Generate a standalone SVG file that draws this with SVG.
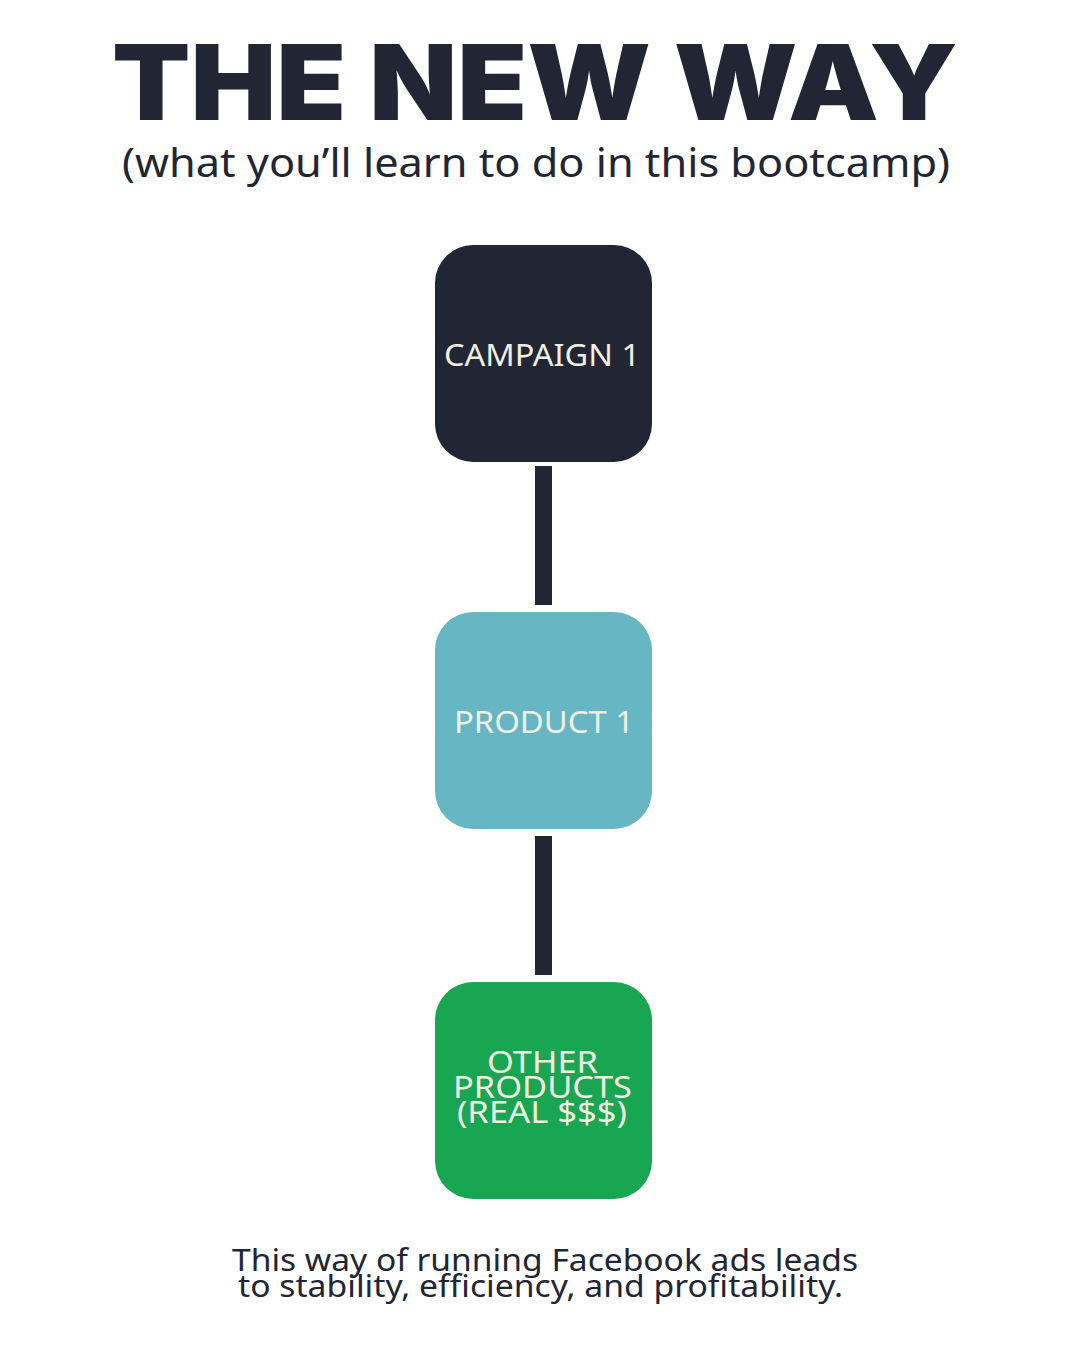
<svg xmlns="http://www.w3.org/2000/svg" width="1080" height="1351" viewBox="0 0 1080 1351">
<style>
.title{font-family:Inter,"Liberation Sans",sans-serif;font-weight:900;fill:#222533}
.sub{font-family:"Noto Sans","Open Sans",sans-serif;fill:#222533}
.lbl{font-family:"Noto Sans","Open Sans",sans-serif;fill:#EEF0E2;font-size:30px;text-anchor:middle}
.conn{fill:#222533}
</style>
<rect width="1080" height="1351" fill="#ffffff"/>
<text class="title" x="112" y="120" font-size="104" textLength="846" lengthAdjust="spacingAndGlyphs">THE NEW WAY</text>
<text class="sub" x="122" y="177" font-size="40" textLength="828" lengthAdjust="spacingAndGlyphs">(what you’ll learn to do in this bootcamp)</text>
<g id="connectors">
<rect class="conn" x="535" y="466" width="17" height="139"/>
<rect class="conn" x="535" y="836" width="17" height="139"/>
</g>
<g id="campaign1">
<rect x="435" y="245" width="217" height="217" rx="38" fill="#222533"/>
<text class="lbl" x="542" y="366" textLength="196" lengthAdjust="spacingAndGlyphs">CAMPAIGN 1</text>
</g>
<g id="product1">
<rect x="435" y="612" width="217" height="217" rx="38" fill="#66B6C3"/>
<text class="lbl" x="544" y="733" textLength="180" lengthAdjust="spacingAndGlyphs">PRODUCT 1</text>
</g>
<g id="other">
<rect x="435" y="982" width="217" height="217" rx="38" fill="#19A652"/>
<text class="lbl" x="542.5" y="1073" textLength="111" lengthAdjust="spacingAndGlyphs">OTHER</text>
<text class="lbl" x="542.5" y="1098" textLength="179" lengthAdjust="spacingAndGlyphs">PRODUCTS</text>
<text class="lbl" x="542" y="1123" textLength="170" lengthAdjust="spacingAndGlyphs">(REAL $$$)</text>
</g>
<text class="sub" x="232" y="1271" font-size="30" textLength="626" lengthAdjust="spacingAndGlyphs">This way of running Facebook ads leads</text>
<text class="sub" x="238" y="1297" font-size="30" textLength="605" lengthAdjust="spacingAndGlyphs">to stability, efficiency, and profitability.</text>
</svg>
